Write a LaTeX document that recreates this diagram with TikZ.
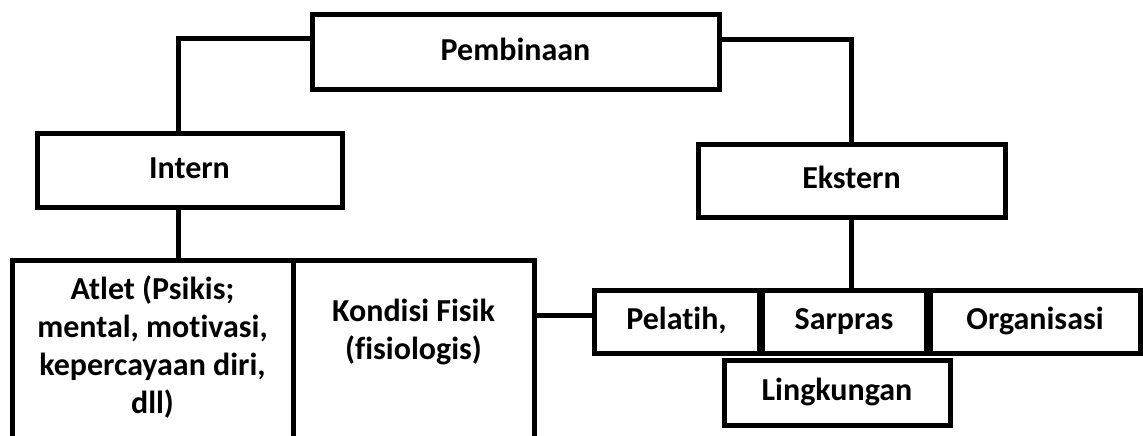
\documentclass[tikz,border=0pt]{standalone}
\usepackage{fontspec}
\setmainfont{Carlito}[Ligatures=CommonOff]

\begin{document}
\begin{tikzpicture}[x=1pt,y=-1pt,
  box/.style={draw,line width=5pt,rectangle,inner sep=0pt,
    font=\fontsize{32}{38}\selectfont\bfseries,text height=24pt,text depth=8pt},
  txt/.style={align=center,inner sep=0pt,font=\fontsize{32}{38}\selectfont\bfseries},
  link/.style={line width=5pt}]
  \useasboundingbox (0,0) rectangle (1143,436);
  \clip (0,0) rectangle (1143,436);
  % top level
  \node[box,minimum width=407pt,minimum height=74pt] (pemb) at (515.5,52) {Pembinaan};
  \node[box,minimum width=305pt,minimum height=74pt] (intern) at (189.5,170) {Intern};
  \node[box,minimum width=307pt,minimum height=73pt] (ekstern) at (851.5,180.5) {Ekstern};
  % intern side
  \node[box,minimum width=281pt,minimum height=220pt,anchor=north] (atlet) at (152.5,258) {};
  \node[box,minimum width=241pt,minimum height=220pt,anchor=north] (kondisi) at (413.5,258) {};
  \node[txt] (atlettxt) at (152.5,347) {Atlet (Psikis;\\mental, motivasi,\\kepercayaan diri,\\dll)};
  \node[txt] (kondisitxt) at (413.5,332) {Kondisi Fisik\\(fisiologis)};
  % ekstern side
  \node[box,minimum width=165pt,minimum height=63pt] (pelatih) at (676.5,321.5) {Pelatih,};
  \node[box,minimum width=164pt,minimum height=63pt] (sarpras) at (844,321.5) {Sarpras};
  \node[box,minimum width=210pt,minimum height=63pt] (organisasi) at (1035,321.5) {Organisasi};
  \node[box,minimum width=226pt,minimum height=65pt] (lingkungan) at (837,392.5) {Lingkungan};
  % connectors
  \coordinate (lx) at (178,0);
  \draw[link] ([yshift=13pt]pemb.west) -| (lx |- intern.north);
  \draw[link] ([yshift=12pt]pemb.east) -| (ekstern.north);
  \draw[link] (lx |- intern.south) -- (lx |- atlet.north);
  \draw[link] (ekstern.south) -- (ekstern.south |- sarpras.north);
  \draw[link] ([yshift=6pt]pelatih.west) -- ([yshift=6pt]pelatih.west -| kondisi.east);
\end{tikzpicture}
\end{document}
